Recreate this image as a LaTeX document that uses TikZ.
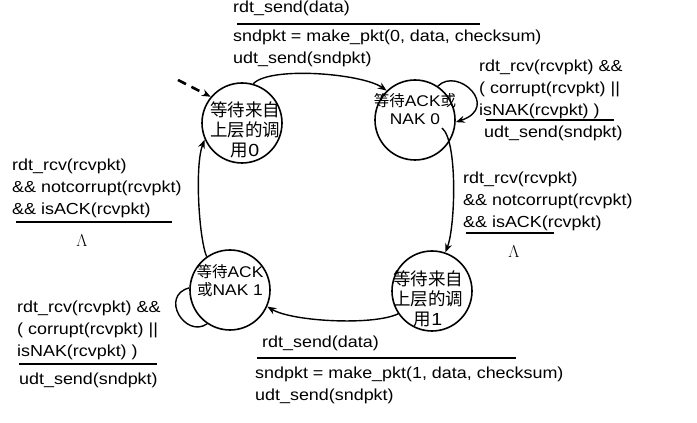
\documentclass[tikz,border=0pt]{standalone}
\usepackage{fontspec}
\setmainfont{Liberation Sans}[FakeStretch=1.12]
\newfontfamily\zhfont{Noto Sans CJK SC}
\newcommand{\zh}[1]{{\zhfont #1}}
\usetikzlibrary{arrows.meta}

\begin{document}
\begin{tikzpicture}[
  x=1pt, y=1pt,
  state/.style={circle, draw, line width=1.6pt, minimum size=80pt, inner sep=0pt},
  statetext/.style={align=center, font=\fontsize{17.5}{20}\selectfont, inner sep=0pt},
  acktext/.style={align=center, font=\fontsize{15.5}{18}\selectfont, inner sep=0pt},
  event/.style={align=left, font=\fontsize{16}{22}\selectfont, inner sep=0pt},
  divider/.style={line width=2.5pt},
  trans/.style={-{Stealth[length=9pt,width=7pt]}, line width=1.4pt},
  initarrow/.style={trans, dash pattern=on 9pt off 6pt, line width=2.6pt}
]
  \useasboundingbox (0,0) rectangle (697,423);

  % States
  \node[state] (s0) at (242,300) {};
  \node[state] (s1) at (415,303) {};
  \node[state] (s2) at (432,132) {};
  \node[state] (s3) at (230,133) {};

  % State names
  \node[statetext] (t0) at (245,293) {\zh{等待来自}\\\zh{上层的调}\\\zh{用}0};
  \node[acktext] (t1) at (415,314) {\zh{等待}ACK\zh{或}\\NAK 0};
  \node[statetext] (t2) at (428,124) {\zh{等待来自}\\\zh{上层的调}\\\zh{用}1};
  \node[acktext] (t3) at (230,142) {\zh{等待}ACK\\\zh{或}NAK 1};

  % Start
  \coordinate (init) at (178,343);
  \draw[initarrow] (init) -- (s0.140);

  % Transitions
  \draw[trans] (s0.74) .. controls +(17,18) and +(-24,17) .. (s1.134);
  \draw[trans] (s1.56) .. controls +(20,20) and +(45,15) .. (s1.-3);
  \coordinate (s1out) at (442,295);
  \draw[trans] (s1out) .. controls +(16,-13) and +(10,25) .. (s2.71);
  \draw[trans] (s2.214) .. controls +(-25,-12) and +(25,-15) .. (s3.336);
  \draw[line width=1.4pt] (s3.177) .. controls +(-30,-8) and +(-22,-15) .. (s3.236);
  \draw[trans] (s3.125) .. controls +(-8,20) and +(-10,-25) .. (s0.204);

  % Labels: wait for call 0 -> wait for ACK 0
  \node[event, anchor=base west] (e01) at (233,410) {rdt\_send(data)};
  \draw[divider] (237,399) -- (480,399);
  \node[event, anchor=west] (a01) at (233,375) {sndpkt = make\_pkt(0, data, checksum)\\udt\_send(sndpkt)};

  % Labels: wait for ACK 0 self loop
  \node[event, anchor=west] (e11) at (479,334) {rdt\_rcv(rcvpkt) \&\&\\( corrupt(rcvpkt) ||\\isNAK(rcvpkt) )};
  \draw[divider] (486,303) -- (614,303);
  \node[event, anchor=base west] (a11) at (484,285) {udt\_send(sndpkt)};

  % Labels: wait for ACK 0 -> wait for call 1
  \node[event, anchor=west] (e12) at (463,222) {rdt\_rcv(rcvpkt)\\\&\& notcorrupt(rcvpkt)\\\&\& isACK(rcvpkt)};
  \draw[divider] (466,190) -- (554,190);
  \node[event] (a12) at (514,171) {$\Lambda$};

  % Labels: wait for call 1 -> wait for ACK 1
  \node[event, anchor=base west] (e23) at (262,75) {rdt\_send(data)};
  \draw[divider] (257,65) -- (516,65);
  \node[event, anchor=west] (a23) at (255,38) {sndpkt = make\_pkt(1, data, checksum)\\udt\_send(sndpkt)};

  % Labels: wait for ACK 1 self loop
  \node[event, anchor=west] (e33) at (17,92.5) {rdt\_rcv(rcvpkt) \&\&\\( corrupt(rcvpkt) ||\\isNAK(rcvpkt) )};
  \draw[divider] (19,59) -- (157,59);
  \node[event, anchor=base west] (a33) at (19,38) {udt\_send(sndpkt)};

  % Labels: wait for ACK 1 -> wait for call 0
  \node[event, anchor=west] (e30) at (12,235) {rdt\_rcv(rcvpkt)\\\&\& notcorrupt(rcvpkt)\\\&\& isACK(rcvpkt)};
  \draw[divider] (16,201) -- (172,201);
  \node[event] (a30) at (82,182) {$\Lambda$};
\end{tikzpicture}
\end{document}
